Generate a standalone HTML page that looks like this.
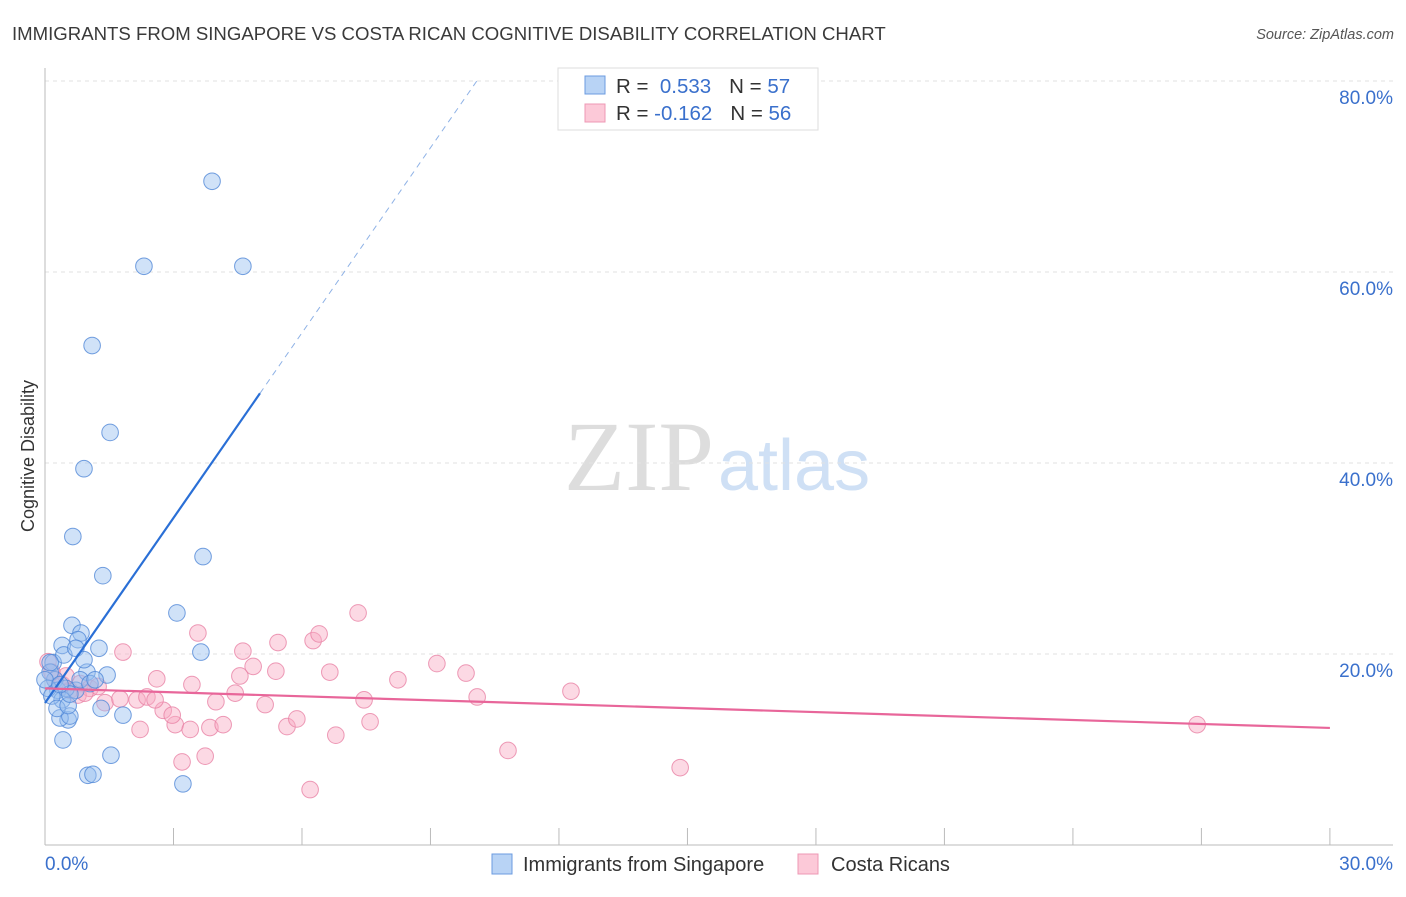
<!DOCTYPE html>
<html><head><meta charset="utf-8"><style>
body{margin:0;background:#fff;font-family:"Liberation Sans",sans-serif}
svg text{font-family:"Liberation Sans",sans-serif}
</style></head><body>
<svg id="c" width="1406" height="892">
<text x="12" y="40" font-size="18.6" fill="#3a3a3a">IMMIGRANTS FROM SINGAPORE VS COSTA RICAN COGNITIVE DISABILITY CORRELATION CHART</text>
<text x="1394" y="39" font-size="14.5" fill="#555" font-style="italic" text-anchor="end">Source: ZipAtlas.com</text>
<text x="714" y="490" font-size="100" fill="#ddd" text-anchor="end" style="font-family:'Liberation Serif',serif">ZIP</text>
<text x="718" y="490" font-size="72" fill="#cfe0f5">atlas</text>
<g id="grid"></g><g id="axes"></g><g id="pts"></g><g id="trend"></g>
<text transform="translate(34,456) rotate(-90)" font-size="18" fill="#333" text-anchor="middle">Cognitive Disability</text>
<g>
<rect x="558" y="68" width="260" height="62" fill="#fff" stroke="#ddd"/>
<rect x="585" y="76" width="20" height="18" fill="#b8d3f5" stroke="#6b9be0"/>
<rect x="585" y="104" width="20" height="18" fill="#fcc9d8" stroke="#ee98b4"/>
<text x="616" y="93" font-size="20.5" fill="#333">R = <tspan fill="#3a70cc">&#160;0.533</tspan><tspan dx="18">N = </tspan><tspan fill="#3a70cc">57</tspan></text>
<text x="616" y="120" font-size="20.5" fill="#333">R = <tspan fill="#3a70cc">-0.162</tspan><tspan dx="18">N = </tspan><tspan fill="#3a70cc">56</tspan></text>
</g>
<g>
<rect x="492" y="854" width="20" height="20" fill="#b8d3f5" stroke="#6b9be0"/>
<text x="523" y="871" font-size="20" fill="#333">Immigrants from Singapore</text>
<rect x="798" y="854" width="20" height="20" fill="#fcc9d8" stroke="#ee98b4"/>
<text x="831" y="871" font-size="20" fill="#333">Costa Ricans</text>
</g>
</svg>
<script>
const yTicks=[20,40,60,80];
const yTickLabels=["20.0%","40.0%","60.0%","80.0%"];
const xTicks=[0,3,6,9,12,15,18,21,24,27,30];
const blueX=[3.90,2.31,4.62,1.10,1.52,0.91,0.65,1.35,3.69,3.08,0.63,0.84,1.26,3.64,0.40,0.19,1.45,0.98,1.31,1.82,0.42,1.54,1.00,1.12,3.22,0.54,0.35,0.58,0.72,0.82,0.23,0.12,0.30,0.49,0.07,0.40,0.16,1.05,0.77,0.44,0.72,1.17,0.28,0.54,0.91,0.0,0.12,0.58,0.35];
const blueY=[69.5,60.6,60.6,52.3,43.2,39.4,32.3,28.2,30.2,24.3,23.0,22.2,20.6,20.2,20.9,19.1,17.8,18.1,14.3,13.6,11.0,9.4,7.3,7.4,6.4,13.1,13.3,13.5,16.2,17.3,17.3,18.1,16.2,16.4,16.4,15.2,15.6,16.9,21.5,19.9,20.6,17.3,14.3,14.6,19.4,17.3,19.1,15.8,16.8];
const pinkX=[3.57,1.82,4.62,5.44,6.26,6.40,4.86,5.39,6.65,4.55,2.61,3.43,4.44,3.99,5.14,2.22,3.04,3.39,3.85,4.16,5.65,5.88,6.79,3.20,3.74,6.19,2.76,2.97,1.40,1.75,2.15,2.38,2.57,7.31,9.15,9.83,8.24,7.45,7.59,10.09,10.81,12.28,14.83,26.9,0.07,0.23,0.40,0.58,0.82,1.05,1.24,0.77,0.49,0.93,0.16];
const pinkY=[22.2,20.2,20.3,21.2,21.4,22.1,18.7,18.2,18.1,17.7,17.4,16.8,15.9,15.0,14.7,12.1,12.6,12.1,12.3,12.6,12.4,13.2,11.5,8.7,9.3,5.8,14.1,13.6,14.9,15.3,15.2,15.5,15.2,24.3,19.0,18.0,17.3,15.2,12.9,15.5,9.9,16.1,8.1,12.6,19.2,17.3,16.8,16.2,16.9,16.4,16.6,15.7,17.7,15.9,18.1];
const blueTrend=[14.87,6.46,5.02,10.1];
const pinkTrend=[16.4,-0.138];
const X=v=>45+v*42.83, Y=v=>845-v*9.55;
const NS="http://www.w3.org/2000/svg";
function mk(t,a,p){const e=document.createElementNS(NS,t);for(const k in a)e.setAttribute(k,a[k]);p.appendChild(e);return e;}
const g=document.getElementById('grid'),ax=document.getElementById('axes'),pts=document.getElementById('pts'),tr=document.getElementById('trend');
yTicks.forEach((t,i)=>{
 const l=mk('line',{x1:45,x2:1393,y1:Y(t),y2:Y(t),stroke:'#e2e2e2','stroke-dasharray':'4,4'},g);
 
 
 const tx=mk('text',{x:1393,y:Y(t)+23,'font-size':19,fill:'#3a70cc','text-anchor':'end'},g);
 tx.textContent=yTickLabels[i];
 
 
});
const ya=mk('line',{x1:45,x2:45,y1:68,y2:845,stroke:'#bbb'},ax);


const xa=mk('line',{x1:45,x2:1393,y1:845,y2:845,stroke:'#bbb'},ax);


xTicks.forEach(t=>{const l=mk('line',{x1:X(t),x2:X(t),y1:828,y2:845,stroke:'#bbb'},ax);
 
 });
[[0,"0.0%","start",45],[30,"30.0%","end",1393]].forEach(d=>{const t=mk('text',{x:d[3],y:870,'font-size':19,fill:'#3a70cc','text-anchor':d[2]},ax);t.textContent=d[1];
 
 });
pinkX.forEach((v,i)=>{const c=mk('circle',{cx:X(v),cy:Y(pinkY[i]),r:8.3,fill:'rgba(248,170,195,0.45)',stroke:'rgba(232,130,165,0.8)'},pts);
 
 });
blueX.forEach((v,i)=>{const c=mk('circle',{cx:X(v),cy:Y(blueY[i]),r:8.3,fill:'rgba(150,190,240,0.45)',stroke:'rgba(80,135,215,0.8)'},pts);
 
 });
const bf=x=>blueTrend[0]+blueTrend[1]*x;
const b1=mk('line',{x1:X(0),y1:Y(bf(0)),x2:X(blueTrend[2]),y2:Y(bf(blueTrend[2])),stroke:'#2a6fd6','stroke-width':2.2},tr);


const b2=mk('line',{x1:X(blueTrend[2]),y1:Y(bf(blueTrend[2])),x2:X(blueTrend[3]),y2:Y(bf(blueTrend[3])),stroke:'#8fb2e6','stroke-width':1,'stroke-dasharray':'6,5'},tr);


const pf=x=>pinkTrend[0]+pinkTrend[1]*x;
const p1=mk('line',{x1:X(0),y1:Y(pf(0)),x2:X(30),y2:Y(pf(30)),stroke:'#e8669a','stroke-width':2.2},tr);


</script>
</body></html>
